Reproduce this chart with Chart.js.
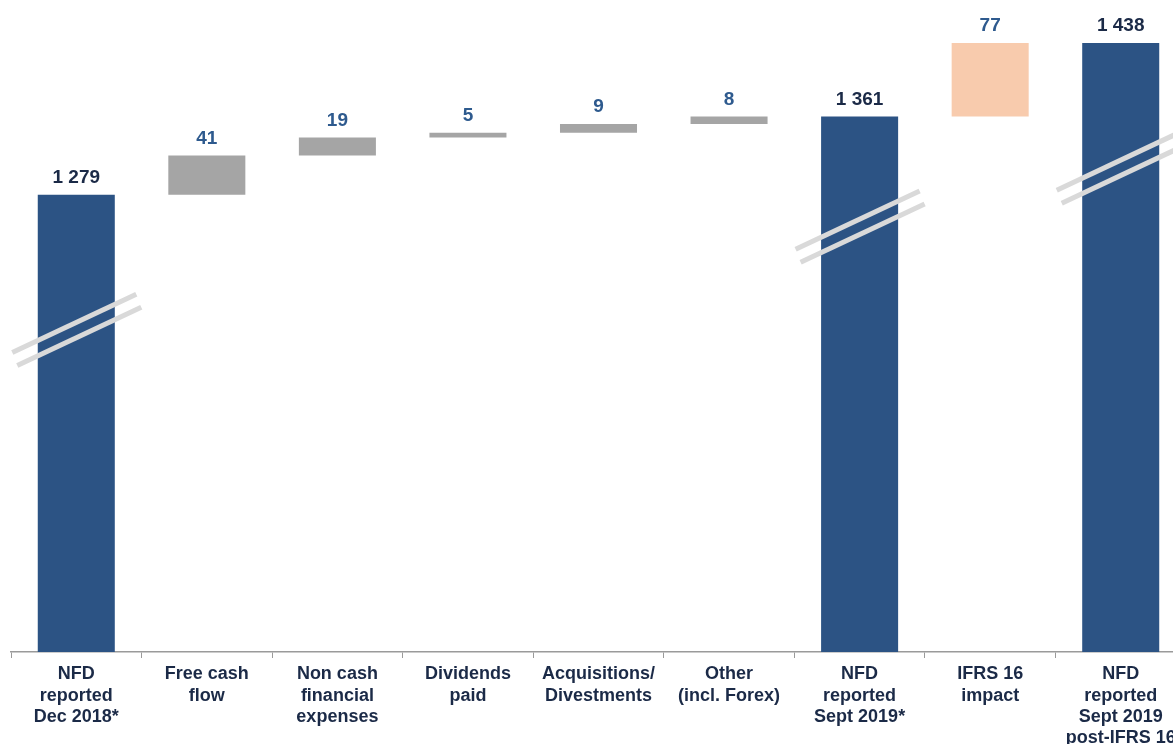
<!DOCTYPE html>
<html><head><meta charset="utf-8">
<script src="https://cdn.jsdelivr.net/npm/chart.js@4/dist/chart.umd.min.js"></script>
<style>
html,body{margin:0;padding:0;background:#fff;overflow:hidden;width:1173px;height:744px;}
#wrap{position:absolute;left:0;top:0;width:1197px;height:744px;}
</style></head>
<body><div id="wrap"><canvas id="c" width="1197" height="744"></canvas></div>
<script>
const categories = [
  ["NFD","reported","Dec 2018*"],
  ["Free cash","flow"],
  ["Non cash","financial","expenses"],
  ["Dividends","paid"],
  ["Acquisitions/","Divestments"],
  ["Other","(incl. Forex)"],
  ["NFD","reported","Sept 2019*"],
  ["IFRS 16","impact"],
  ["NFD","reported","Sept 2019","post-IFRS 16"]
];
// 'total' bars show an absolute level; 'delta' bars float on the running total
const barKinds = ["total","delta","delta","delta","delta","delta","total","delta","total"];
const barValues = [1279, 41, 19, 5, 9, 8, 1361, 77, 1438];
const barColors = ["#2c5384","#a5a5a5","#a5a5a5","#a5a5a5","#a5a5a5","#a5a5a5","#2c5384","#f8cbad","#2c5384"];
// axis-break markers (category index, value where the break is drawn)
const breakIndex = [0, 6, 8];
const breakValues = [1137, 1245, 1307];

const yMin = 800, yMax = 1483;

// build floating ranges
let running = 0;
const ranges = barValues.map((v,i)=>{
  if (barKinds[i]==="total"){ running = v; return [0, v]; }
  const r = [running, running+v]; running += v; return r;
});
const fmt = v => String(v).replace(/\B(?=(\d{3})+(?!\d))/g, " ");

const labelPlugin = {
  id:'vals',
  afterDatasetsDraw(chart){
    const ctx = chart.ctx, meta = chart.getDatasetMeta(0), ys = chart.scales.y;
    ctx.save();
    // break marks
    breakIndex.forEach((idx,k)=>{
      const el = meta.data[idx];
      const cy = ys.getPixelForValue(breakValues[k]);
      ctx.strokeStyle = "#d9d9d9"; ctx.lineWidth = 5; ctx.lineCap = "butt";
      const half = 62, slope = -0.47;
      [[-7,-2],[6,3]].forEach(([dy,dx])=>{
        ctx.beginPath();
        ctx.moveTo(el.x - half + dx, cy + dy - half*slope);
        ctx.lineTo(el.x + half + dx, cy + dy + half*slope);
        ctx.stroke();
      });
    });
    ctx.font = "bold 19px 'Liberation Sans', Arial, sans-serif";
    ctx.textAlign = "center"; ctx.textBaseline = "middle";
    meta.data.forEach((el,i)=>{
      ctx.fillStyle = barKinds[i]==="total" ? "#1b2a47" : "#2e5a8e";
      const top = ys.getPixelForValue(ranges[i][1]);
      ctx.fillText(fmt(barValues[i]), el.x, top - 17);
    });
    ctx.restore();
  }
};

new Chart(document.getElementById('c'), {
  type:'bar',
  data:{ labels: categories, datasets:[{ data: ranges, backgroundColor: barColors, borderWidth:0,
    barPercentage:0.59, categoryPercentage:1 }]},
  options:{
    responsive:false, animation:false,
    layout:{ padding:{left:11,right:11,top:0,bottom:0} },
    plugins:{ legend:{display:false}, tooltip:{enabled:false} },
    scales:{
      x:{
        grid:{ display:true, drawOnChartArea:false, drawTicks:true, tickLength:6, color:"#9a9a9a", offset:true },
        border:{ display:true, color:"#9a9a9a", width:1.5 },
        ticks:{ color:"#1b2a47", font:{ family:"'Liberation Sans', Arial, sans-serif", size:18, weight:'bold', lineHeight:1.17 }, padding:6, maxRotation:0, autoSkip:false },
        afterFit(s){ s.height = 92; }
      },
      y:{ display:false, min:yMin, max:yMax }
    }
  },
  plugins:[labelPlugin]
});
</script></body></html>
